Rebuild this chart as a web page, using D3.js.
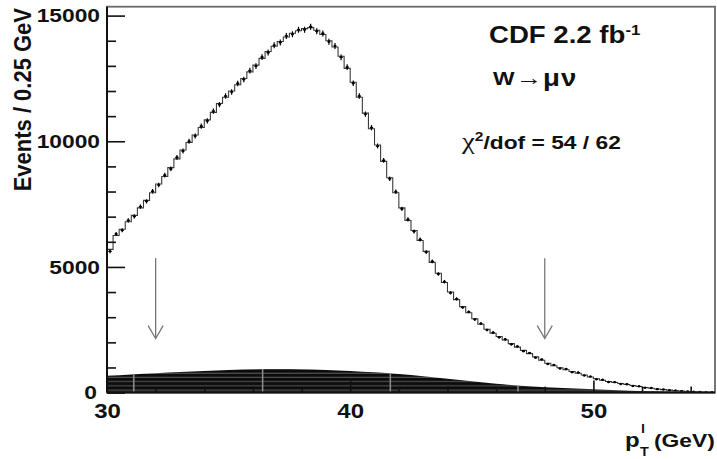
<!DOCTYPE html>
<html>
<head>
<meta charset="utf-8">
<script src="https://cdn.jsdelivr.net/npm/d3@7/dist/d3.min.js"></script>
<style>
  body { margin: 0; background: #fff; }
  svg { display: block; }
  text { font-family: "Liberation Sans", Arial, Helvetica, sans-serif; font-weight: bold; fill: #111; }
</style>
</head>
<body>
<svg id="chart" width="717" height="459"></svg>
<script>
// Muon pT spectrum, W -> mu nu, 0.25 GeV bins from 30 to 55 GeV
const binLow = 30;
const binWidth = 0.25;

// Fitted template (histogram line)
const modelCounts = [
  5700, 6250, 6500, 6800, 7050, 7350, 7650, 7950, 8300, 8600,
  8950, 9300, 9650, 9950, 10250, 10550, 10850, 11150, 11500, 11750,
  12000, 12250, 12500, 12760, 13030, 13300, 13570, 13780, 13970, 14150,
  14300, 14400, 14480, 14520, 14420, 14250, 14000, 13750, 13380, 12900,
  12350, 11750, 11120, 10500, 9850, 9200, 8550, 7950, 7350, 6850,
  6450, 6050, 5620, 5180, 4750, 4380, 4000, 3700, 3420, 3180,
  2940, 2720, 2520, 2360, 2230, 2090, 1950, 1810, 1680, 1550,
  1420, 1290, 1170, 1070, 990, 910, 840, 770, 700, 620,
  550, 490, 440, 400, 360, 320, 280, 240, 205, 175,
  145, 120, 98, 78, 60, 46, 34, 24, 16, 10
];

// Observed events (points with statistical errors)
const dataCounts = [
  5620, 6310, 6460, 6850, 7010, 7400, 7610, 8010, 8260, 8650,
  8900, 9360, 9610, 10000, 10210, 10600, 10810, 11200, 11460, 11800,
  11960, 12300, 12460, 12810, 12990, 13350, 13530, 13820, 13930, 14190,
  14260, 14440, 14440, 14560, 14380, 14290, 13960, 13790, 13340, 12950,
  12310, 11800, 11080, 10540, 9810, 9240, 8510, 7990, 7310, 6890,
  6410, 6090, 5590, 5220, 4720, 4410, 3970, 3730, 3390, 3210,
  2910, 2750, 2490, 2390, 2200, 2120, 1920, 1840, 1650, 1580,
  1390, 1320, 1140, 1100, 960, 940, 810, 800, 680, 640,
  530, 510, 420, 415, 345, 335, 265, 250, 195, 185,
  138, 126, 92, 84, 56, 50, 31, 27, 14, 12
];

// Background contribution sampled every 1 GeV
const bgPt = [30, 31, 32, 33, 34, 35, 36, 37, 38, 39, 40, 41, 42, 43, 44, 45, 46, 47, 48, 49, 50, 51, 52, 53, 54, 55];
const bgCounts = [670, 720, 770, 815, 860, 900, 925, 935, 925, 900, 860, 805, 740, 650, 550, 450, 350, 275, 215, 170, 130, 95, 65, 45, 30, 20];
// light seams through the background fill
const bgSeams = [31.1, 36.4, 41.65, 46.9, 52.05];

// Fit window
const cutArrows = [32, 48];
const arrowTop = 5350;
const arrowTip = 2150;

const yMajor = [0, 5000, 10000, 15000];
const yMinor = [1000, 2000, 3000, 4000, 6000, 7000, 8000, 9000, 11000, 12000, 13000, 14000];
const xMajor = [30, 40, 50];
const xMinor = [32, 34, 36, 38, 42, 44, 46, 48, 52, 54];

// Text is drawn slightly widened horizontally
const sx = 1.2;

const svg = d3.select("#chart");
const plotLeft = 107, plotRight = 715, plotTop = 6.7, plotBottom = 392.6;

const x = d3.scaleLinear().domain([30, 55]).range([plotLeft, plotRight]);
const y = d3.scaleLinear().domain([0, 15000]).range([plotBottom, 15.6]);

const defs = svg.append("defs");
const pat = defs.append("pattern")
  .attr("id", "bgStripes")
  .attr("patternUnits", "userSpaceOnUse")
  .attr("width", 20).attr("height", 4.2);
pat.append("rect").attr("width", 20).attr("height", 4.2).attr("fill", "#0c0c0c");
pat.append("rect").attr("y", 3.1).attr("width", 20).attr("height", 1).attr("fill", "#5c5c5c");

defs.append("clipPath").attr("id", "plotClip")
  .append("rect").attr("x", plotLeft).attr("y", plotTop).attr("width", plotRight - plotLeft).attr("height", plotBottom - plotTop);

// Background area
const bgData = bgPt.map((p, i) => [p, bgCounts[i]]);
const bgArea = d3.area()
  .x(d => x(d[0]))
  .y0(y(0))
  .y1(d => y(d[1]))
  .curve(d3.curveMonotoneX);

defs.append("clipPath").attr("id", "bgClip")
  .append("path").attr("d", bgArea(bgData));

svg.append("path")
  .attr("d", bgArea(bgData))
  .attr("fill", "url(#bgStripes)");

svg.append("g").attr("clip-path", "url(#bgClip)")
  .selectAll("line").data(bgSeams).join("line")
  .attr("x1", d => x(d)).attr("x2", d => x(d))
  .attr("y1", y(0)).attr("y2", y(1200))
  .attr("stroke", "#8a8a8a").attr("stroke-width", 1.6);

// Template histogram as a step line
const edges = d3.range(modelCounts.length + 1).map(i => [binLow + i * binWidth, modelCounts[Math.min(i, modelCounts.length - 1)]]);
svg.append("path")
  .attr("clip-path", "url(#plotClip)")
  .attr("d", d3.line().x(d => x(d[0])).y(d => y(d[1])).curve(d3.curveStepAfter)(edges))
  .attr("fill", "none")
  .attr("stroke", "#3a3a3a")
  .attr("stroke-width", 1.1);

// Data points with sqrt(N) errors
const pts = dataCounts.map((n, i) => ({ c: binLow + (i + 0.5) * binWidth, n }));
const pg = svg.append("g").attr("clip-path", "url(#plotClip)");
pg.selectAll("line.err").data(pts).join("line")
  .attr("class", "err")
  .attr("x1", d => x(d.c)).attr("x2", d => x(d.c))
  .attr("y1", d => y(d.n + Math.sqrt(d.n))).attr("y2", d => y(d.n - Math.sqrt(d.n)))
  .attr("stroke", "#000").attr("stroke-width", 1.2);
pg.selectAll("line.hbar").data(pts).join("line")
  .attr("class", "hbar")
  .attr("x1", d => x(d.c) - 1.6).attr("x2", d => x(d.c) + 1.6)
  .attr("y1", d => y(d.n)).attr("y2", d => y(d.n))
  .attr("stroke", "#000").attr("stroke-width", 1.2);
pg.selectAll("circle").data(pts).join("circle")
  .attr("cx", d => x(d.c)).attr("cy", d => y(d.n)).attr("r", 1.2)
  .attr("fill", "#000");

// Fit-range arrows
const ag = svg.append("g").attr("stroke", "#777").attr("stroke-width", 1.3).attr("fill", "none");
cutArrows.forEach(p => {
  const ax = x(p), yt = y(arrowTop), yp = y(arrowTip);
  ag.append("line").attr("x1", ax).attr("x2", ax).attr("y1", yt).attr("y2", yp);
  ag.append("path").attr("d", `M${ax - 7.5},${yp - 13}L${ax},${yp}L${ax + 7.5},${yp - 13}`);
});

// Frame
svg.append("rect")
  .attr("x", plotLeft).attr("y", plotTop).attr("width", plotRight - plotLeft).attr("height", plotBottom - plotTop)
  .attr("fill", "none").attr("stroke", "#6a6a6a").attr("stroke-width", 1.8);

// Y axis
const yPad = 7;
const yAxisMinor = d3.axisLeft(y).tickValues(yMinor).tickSize(-9).tickFormat("");
const yAxisMajor = d3.axisLeft(y).tickValues(yMajor).tickSize(-18).tickPadding(yPad).tickFormat(d3.format("d"));
const gyMinor = svg.append("g").attr("transform", `translate(${plotLeft},0)`).call(yAxisMinor);
const gy = svg.append("g").attr("transform", `translate(${plotLeft},0)`).call(yAxisMajor);
[gy, gyMinor].forEach(g => {
  g.select(".domain").remove();
  g.selectAll(".tick line").attr("stroke", "#111").attr("stroke-width", 1.6);
});
gy.selectAll(".tick text")
  .attr("font-size", 19).attr("font-family", "Liberation Sans, Arial, sans-serif").attr("font-weight", "bold").attr("fill", "#111")
  .attr("x", -yPad / sx).attr("transform", `scale(${sx},1)`);
gy.selectAll(".tick").filter(d => d === 0).select("text").attr("dy", "0.3em").attr("x", -(yPad + 3) / sx);

// X axis
const xAxisMinor = d3.axisBottom(x).tickValues(xMinor).tickSize(-6).tickFormat("");
const xAxisMajor = d3.axisBottom(x).tickValues(xMajor).tickSize(-12).tickPadding(11).tickFormat(d3.format("d"));
const gxMinor = svg.append("g").attr("transform", `translate(0,${plotBottom})`).call(xAxisMinor);
const gx = svg.append("g").attr("transform", `translate(0,${plotBottom})`).call(xAxisMajor);
[gx, gxMinor].forEach(g => {
  g.select(".domain").remove();
  g.selectAll(".tick line").attr("stroke", "#111").attr("stroke-width", 1.6);
});
gx.selectAll(".tick text")
  .attr("font-size", 20).attr("font-family", "Liberation Sans, Arial, sans-serif").attr("font-weight", "bold").attr("fill", "#111")
  .attr("transform", `scale(${sx},1)`);

// Axis lines
svg.append("line").attr("x1", plotLeft).attr("x2", plotLeft).attr("y1", plotTop).attr("y2", plotBottom)
  .attr("stroke", "#111").attr("stroke-width", 2);
svg.append("line").attr("x1", plotLeft).attr("x2", plotRight).attr("y1", plotBottom).attr("y2", plotBottom)
  .attr("stroke", "#111").attr("stroke-width", 2);

// Helper: widened text placed at (px, py)
function label(px, py, size) {
  return svg.append("text")
    .attr("transform", `translate(${px},${py}) scale(${sx},1)`)
    .attr("font-size", size);
}

// Axis titles
svg.append("text")
  .attr("transform", `translate(31,8) scale(1.1,1) rotate(-90)`)
  .attr("text-anchor", "end")
  .attr("font-size", 22)
  .text("Events / 0.25 GeV");

label(625, 447, 20).text("p");
label(641, 433, 12).text("l");
label(640, 456, 12).text("T");
label(654, 447, 19).text("(GeV)");

// Labels
const cdf = label(489, 43, 23);
cdf.append("tspan").text("CDF 2.2 fb");
cdf.append("tspan").attr("font-size", 14).attr("dy", -8).text("-1");

label(493, 85, 19).text("W");
label(516, 85, 22).attr("font-family", "DejaVu Sans, sans-serif").attr("font-weight", "normal").text("\u2192");
label(543, 86, 23).attr("font-family", "Liberation Serif, serif").attr("font-weight", "normal")
  .attr("letter-spacing", 1).attr("fill", "#222").text("\u03BC\u03BD");

const chi = label(462, 149, 19);
chi.append("tspan").attr("font-family", "Liberation Serif, serif").attr("font-weight", "normal").attr("font-size", 24).text("\u03C7");
chi.append("tspan").attr("font-size", 13).attr("dy", -8).text("2");
chi.append("tspan").attr("dy", 8).text("/dof = 54 / 62");
</script>
</body>
</html>
